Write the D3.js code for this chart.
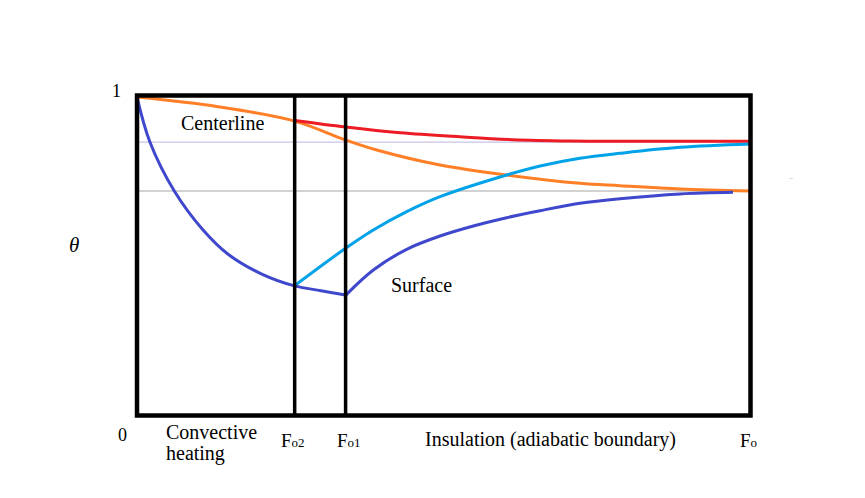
<!DOCTYPE html>
<html><head><meta charset="utf-8">
<script src="https://cdn.jsdelivr.net/npm/d3@7"></script>
<style>body{margin:0;background:#fff}svg{display:block}text{font-family:"Liberation Serif",serif;fill:#000}</style>
</head><body><svg id="c" width="865" height="498"></svg>
<script>
// Fourier number positions (fraction of total Fo) and theta values
const foMarks = [0.257, 0.340];            // Fo2, Fo1
const refLevels = [0.854, 0.7016];          // steady-state levels
const refColors = ["#c8c3e6", "#c3c3c3"];

const surfaceHeat = [[0,0.995],[0.0212,0.854],[0.0608,0.7016],[0.1077,0.5797],[0.1485,0.504],[0.2034,0.442],[0.257,0.405],[0.30,0.39],[0.340,0.3766]];
const surfaceAfterFo1 = [[0.340,0.3755],[0.3852,0.4547],[0.4396,0.5194],[0.4939,0.5609],[0.5482,0.5922],[0.6026,0.6181],[0.6569,0.64],[0.7221,0.6631],[0.7873,0.6775],[0.8851,0.6925],[0.9715,0.6975]];
const surfaceAfterFo2 = [[0.257,0.406],[0.340,0.5225],[0.3852,0.5797],[0.4396,0.6369],[0.4939,0.6838],[0.6026,0.7516],[0.6569,0.7797],[0.7221,0.8038],[0.7873,0.8194],[0.8851,0.8381],[1.0,0.8484]];
const centerHeat = [[0,0.995],[0.132,0.965],[0.257,0.920],[0.340,0.861],[0.3907,0.8297],[0.4939,0.7828],[0.6026,0.7516],[0.7221,0.7256],[0.7873,0.7181],[0.8851,0.7078],[1.0,0.7016]];
const centerAfterFo2 = [[0.257,0.922],[0.340,0.9016],[0.429,0.8837],[0.527,0.871],[0.613,0.862],[0.706,0.858],[0.788,0.857],[1.0,0.857]];

const svg = d3.select("#c");
const x = d3.scaleLinear().domain([0,1]).range([137,750.5]);
const y = d3.scaleLinear().domain([0,1]).range([415.5,95.5]);
const line = d3.line().x(d=>x(d[0])).y(d=>y(d[1])).curve(d3.curveCatmullRom.alpha(0.5));

// reference lines
refLevels.forEach((v,i)=>{
  svg.append("line").attr("x1",x(0)).attr("x2",x(1)).attr("y1",y(v)).attr("y2",y(v))
    .attr("stroke",refColors[i]).attr("stroke-width",1.3);
});

const curves = [
  [centerHeat,"#ff7f27"],
  [centerAfterFo2,"#ed1c24"],
  [surfaceAfterFo2,"#00a2e8"],
  [surfaceHeat,"#3f48cc"],
  [surfaceAfterFo1,"#3f48cc"]
];
curves.forEach(([d,c])=>{
  svg.append("path").attr("d",line(d)).attr("fill","none").attr("stroke",c).attr("stroke-width",3);
});

// box
svg.append("rect").attr("x",x(0)).attr("y",y(1)).attr("width",x(1)-x(0)).attr("height",y(0)-y(1))
  .attr("fill","none").attr("stroke","#000").attr("stroke-width",4.5);
foMarks.forEach(f=>{
  svg.append("line").attr("x1",x(f)).attr("x2",x(f)).attr("y1",y(1)).attr("y2",y(0))
    .attr("stroke","#000").attr("stroke-width",3.5);
});

// stray mark
svg.append("line").attr("x1",789).attr("x2",793).attr("y1",178.5).attr("y2",178.5).attr("stroke","#ddd").attr("stroke-width",1);

// texts
const T=(tx,ty,s,fs,extra)=>{const t=svg.append("text").attr("x",tx).attr("y",ty).attr("font-size",fs).text(s);if(extra)extra(t);return t;};
T(112,97,"1",18);
T(118,441,"0",18);
T(181,130,"Centerline",20);
T(391,292,"Surface",20);
T(166,439,"Convective",20);
T(166,460,"heating",20);
T(425,446,"Insulation (adiabatic boundary)",20);
T(69,252,"θ",21,t=>t.attr("font-style","italic"));
const fo=(tx,sub)=>{const t=svg.append("text").attr("x",tx).attr("y",447).attr("font-size",19);
  t.append("tspan").text("F");t.append("tspan").attr("font-size",13).text("o"+sub);};
fo(281,"2");fo(337,"1");fo(740,"");
</script></body></html>
